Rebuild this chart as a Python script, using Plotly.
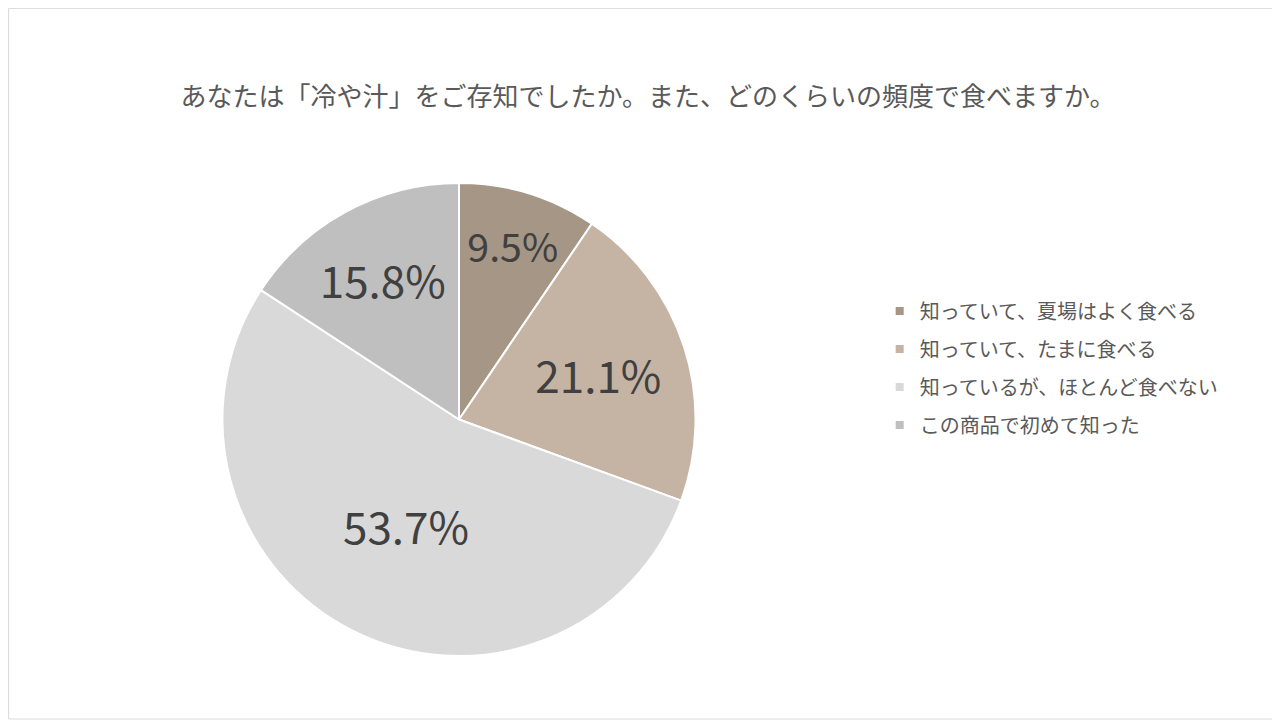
import plotly.graph_objects as go

# アンケート結果
labels = ["知っていて、夏場はよく食べる", "知っていて、たまに食べる",
          "知っているが、ほとんど食べない", "この商品で初めて知った"]
values = [9.5, 21.1, 53.7, 15.8]
colors = ["#A59686", "#C5B4A4", "#D9D9D9", "#BFBFBF"]

title = "あなたは「冷や汁」をご存知でしたか。また、どのくらいの頻度で食べますか。"
font = "Noto Sans CJK JP, Meiryo, sans-serif"

pie = go.Pie(
    labels=labels,
    values=values,
    sort=False,
    direction="clockwise",
    rotation=0,
    marker=dict(colors=colors, line=dict(color="white", width=2)),
    texttemplate="%{value:.1f}%",
    textposition="inside",
    insidetextorientation="horizontal",
    textfont=dict(size=44, color="#404040", family=font),
    domain=dict(x=[0.1672, 0.5375], y=[0.1, 0.757]),
    showlegend=False,
    hoverinfo="label+value")

fig = go.Figure(pie)

# 凡例用 (項目の間隔を広げるため、1項目ずつグループにする)
for lab, col in zip(labels, colors):
    fig.add_trace(go.Scatter(
        x=[None], y=[None], mode="markers", name=lab, legendgroup=lab,
        marker=dict(symbol="square", size=8, color=col)))

fig.update_layout(
    width=1280, height=720,
    margin=dict(l=0, r=0, t=0, b=0),
    paper_bgcolor="white",
    plot_bgcolor="white",
    xaxis=dict(visible=False),
    yaxis=dict(visible=False),
    font=dict(family=font, color="#595959"),
    title=dict(text=title, x=0.5, xanchor="center", y=0.876, yanchor="middle",
               font=dict(size=26, color="#595959", family=font)),
    legend=dict(x=0.681, y=0.5, xanchor="left", yanchor="middle",
                font=dict(size=20, color="#595959", family=font),
                tracegroupgap=9, itemwidth=30),
    shapes=[dict(type="rect", xref="paper", yref="paper", x0=0.0005, y0=0.0125,
                 x1=0.993, y1=0.9995, line=dict(color="#D9D9D9", width=1))])
fig.write_html("out.html")
